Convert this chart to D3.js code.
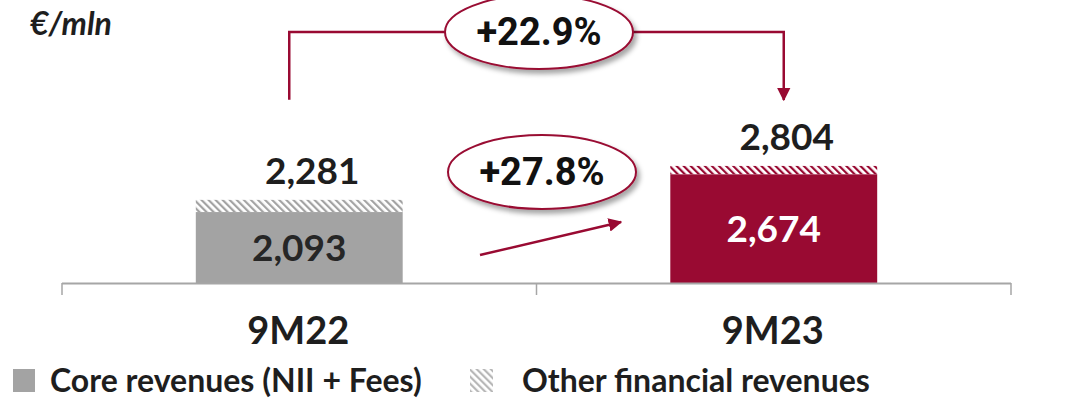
<!DOCTYPE html>
<html>
<head>
<meta charset="utf-8">
<script src="https://cdn.jsdelivr.net/npm/d3@7"></script>
<style>
  html, body { margin: 0; padding: 0; background: #fff; }
  svg { display: block; }
</style>
</head>
<body>
<svg id="chart" width="1071" height="401"></svg>
<script>
// ---- data ----
const categories = ["9M22", "9M23"];
const coreRevenues = [2093, 2674];
const totalRevenues = [2281, 2804];
const otherRevenues = [188, 130];
const seriesNames = ["Core revenues (NII + Fees)", "Other financial revenues"];
const growthLabels = ["+22.9%", "+27.8%"];
const unitLabel = "€/mln";

// ---- layout ----
const baseY = 283;
const crimson = "#990a32";
const gray = "#a3a3a3";
const ink = "#1e1e1e";
const barColors = [gray, crimson];
const font = "Lato, 'Noto Sans', sans-serif";

const svg = d3.select("#chart");
const defs = svg.append("defs");

// hatch patterns ("\\\" direction)
function hatch(id, color) {
  const p = defs.append("pattern").attr("id", id).attr("patternUnits", "userSpaceOnUse")
    .attr("width", 5).attr("height", 5).attr("patternTransform", "rotate(-45)");
  p.append("rect").attr("width", 5).attr("height", 5).attr("fill", "#fff");
  p.append("rect").attr("x", 0).attr("y", 0).attr("width", 2.2).attr("height", 5).attr("fill", color);
}
hatch("hatch0", gray);
hatch("hatch1", crimson);
hatch("hatchLegend", "#b8b8b8");

const shadow = defs.append("filter").attr("id", "shadow").attr("x", "-20%").attr("y", "-20%").attr("width", "150%").attr("height", "160%");
shadow.append("feDropShadow").attr("dx", 3).attr("dy", 4).attr("stdDeviation", 2.5).attr("flood-color", "#000").attr("flood-opacity", 0.35);

defs.append("marker").attr("id", "arrow").attr("viewBox", "0 0 10 10").attr("refX", 9).attr("refY", 5)
  .attr("markerWidth", 5.5).attr("markerHeight", 5.5).attr("markerUnits", "strokeWidth").attr("orient", "auto")
  .append("path").attr("d", "M0,0 L10,5 L0,10 Z").attr("fill", crimson);

// scales
const pad = 0.564;
const x = d3.scaleBand().domain(categories).range([62, 1011]).paddingInner(pad).paddingOuter(pad / 2);
const y = d3.scaleLinear().domain([1000, 3000]).range([baseY, baseY - 2000 * 0.0649]);

// bars: other (hatched) on top of core
const g = svg.append("g");
categories.forEach((c, i) => {
  g.append("rect").attr("x", x(c)).attr("width", x.bandwidth())
    .attr("y", y(coreRevenues[i] + otherRevenues[i])).attr("height", y(coreRevenues[i]) - y(coreRevenues[i] + otherRevenues[i]))
    .attr("fill", `url(#hatch${i})`);
  g.append("rect").attr("x", x(c)).attr("width", x.bandwidth())
    .attr("y", y(coreRevenues[i])).attr("height", baseY - y(coreRevenues[i]))
    .attr("fill", barColors[i]);
  // core label
  g.append("text").attr("x", x(c) + x.bandwidth() / 2)
    .attr("y", (y(coreRevenues[i]) + baseY) / 2 + 13)
    .attr("text-anchor", "middle").attr("font-family", font).attr("font-weight", 700).attr("font-size", 37)
    .attr("fill", i === 0 ? "#262626" : "#fff")
    .text(d3.format(",")(coreRevenues[i]));
  // total label
  g.append("text").attr("x", x(c) + x.bandwidth() / 2 + 13)
    .attr("y", y(totalRevenues[i]) - 16)
    .attr("text-anchor", "middle").attr("font-family", font).attr("font-weight", 700).attr("font-size", 37)
    .attr("fill", ink)
    .text(d3.format(",")(totalRevenues[i]));
  // category label
  g.append("text").attr("x", x(c) + x.bandwidth() / 2 - 1).attr("y", 344)
    .attr("text-anchor", "middle").attr("font-family", font).attr("font-weight", 700).attr("font-size", 38)
    .attr("fill", ink).text(c);
});

// axis
const step = x.step();
const tickXs = [x(categories[0]) - step * pad / 2, x(categories[1]) - step * pad / 2, x(categories[1]) + x.bandwidth() + step * pad / 2];
svg.append("line").attr("x1", tickXs[0]).attr("x2", tickXs[2]).attr("y1", baseY + 0.5).attr("y2", baseY + 0.5)
  .attr("stroke", "#a6a6a6").attr("stroke-width", 2);
tickXs.forEach(t => svg.append("line").attr("x1", t).attr("x2", t).attr("y1", baseY).attr("y2", baseY + 12)
  .attr("stroke", "#a6a6a6").attr("stroke-width", 1.5));

// unit label
svg.append("text").attr("x", 30).attr("y", 35).attr("font-family", font).attr("font-weight", 700)
  .attr("font-style", "italic").attr("font-size", 32).attr("fill", ink).text(unitLabel);

// bracket arrow (total growth)
const c0 = x(categories[0]) + x.bandwidth() / 2, c1 = x(categories[1]) + x.bandwidth() / 2;
const bx0 = c0 - 10, bx1 = c1 + 10, by = 32;
svg.append("path").attr("d", `M${bx0},${y(totalRevenues[0]) - 100} V${by} H${bx1} V${y(totalRevenues[1]) - 66}`)
  .attr("fill", "none").attr("stroke", crimson).attr("stroke-width", 2.5).attr("marker-end", "url(#arrow)");

// core growth arrow
svg.append("line").attr("x1", 480).attr("y1", 255).attr("x2", 621).attr("y2", 222)
  .attr("stroke", crimson).attr("stroke-width", 2.5).attr("marker-end", "url(#arrow)");

// ellipses
const ells = [{cx: 539, cy: 32, label: growthLabels[0]}, {cx: 542, cy: 172, label: growthLabels[1]}];
ells.forEach(e => {
  svg.append("ellipse").attr("cx", e.cx).attr("cy", e.cy).attr("rx", 94).attr("ry", 37)
    .attr("fill", "#fff").attr("stroke", crimson).attr("stroke-width", 2).attr("filter", "url(#shadow)");
  svg.append("text").attr("x", e.cx).attr("y", e.cy + 13).attr("text-anchor", "middle")
    .attr("font-family", "Roboto, 'Liberation Sans', sans-serif").attr("font-weight", 700).attr("font-size", 38)
    .attr("fill", "#111").text(e.label);
});

// legend
const leg = svg.append("g");
leg.append("rect").attr("x", 13).attr("y", 369).attr("width", 22).attr("height", 23).attr("fill", gray);
leg.append("text").attr("x", 50).attr("y", 392).attr("font-family", font).attr("font-weight", 700).attr("font-size", 32)
  .attr("fill", ink).text(seriesNames[0]);
leg.append("rect").attr("x", 470).attr("y", 369).attr("width", 23).attr("height", 23).attr("fill", "url(#hatchLegend)");
leg.append("text").attr("x", 522).attr("y", 392).attr("font-family", font).attr("font-weight", 700).attr("font-size", 32)
  .attr("fill", ink).text(seriesNames[1]);
</script>
</body>
</html>
